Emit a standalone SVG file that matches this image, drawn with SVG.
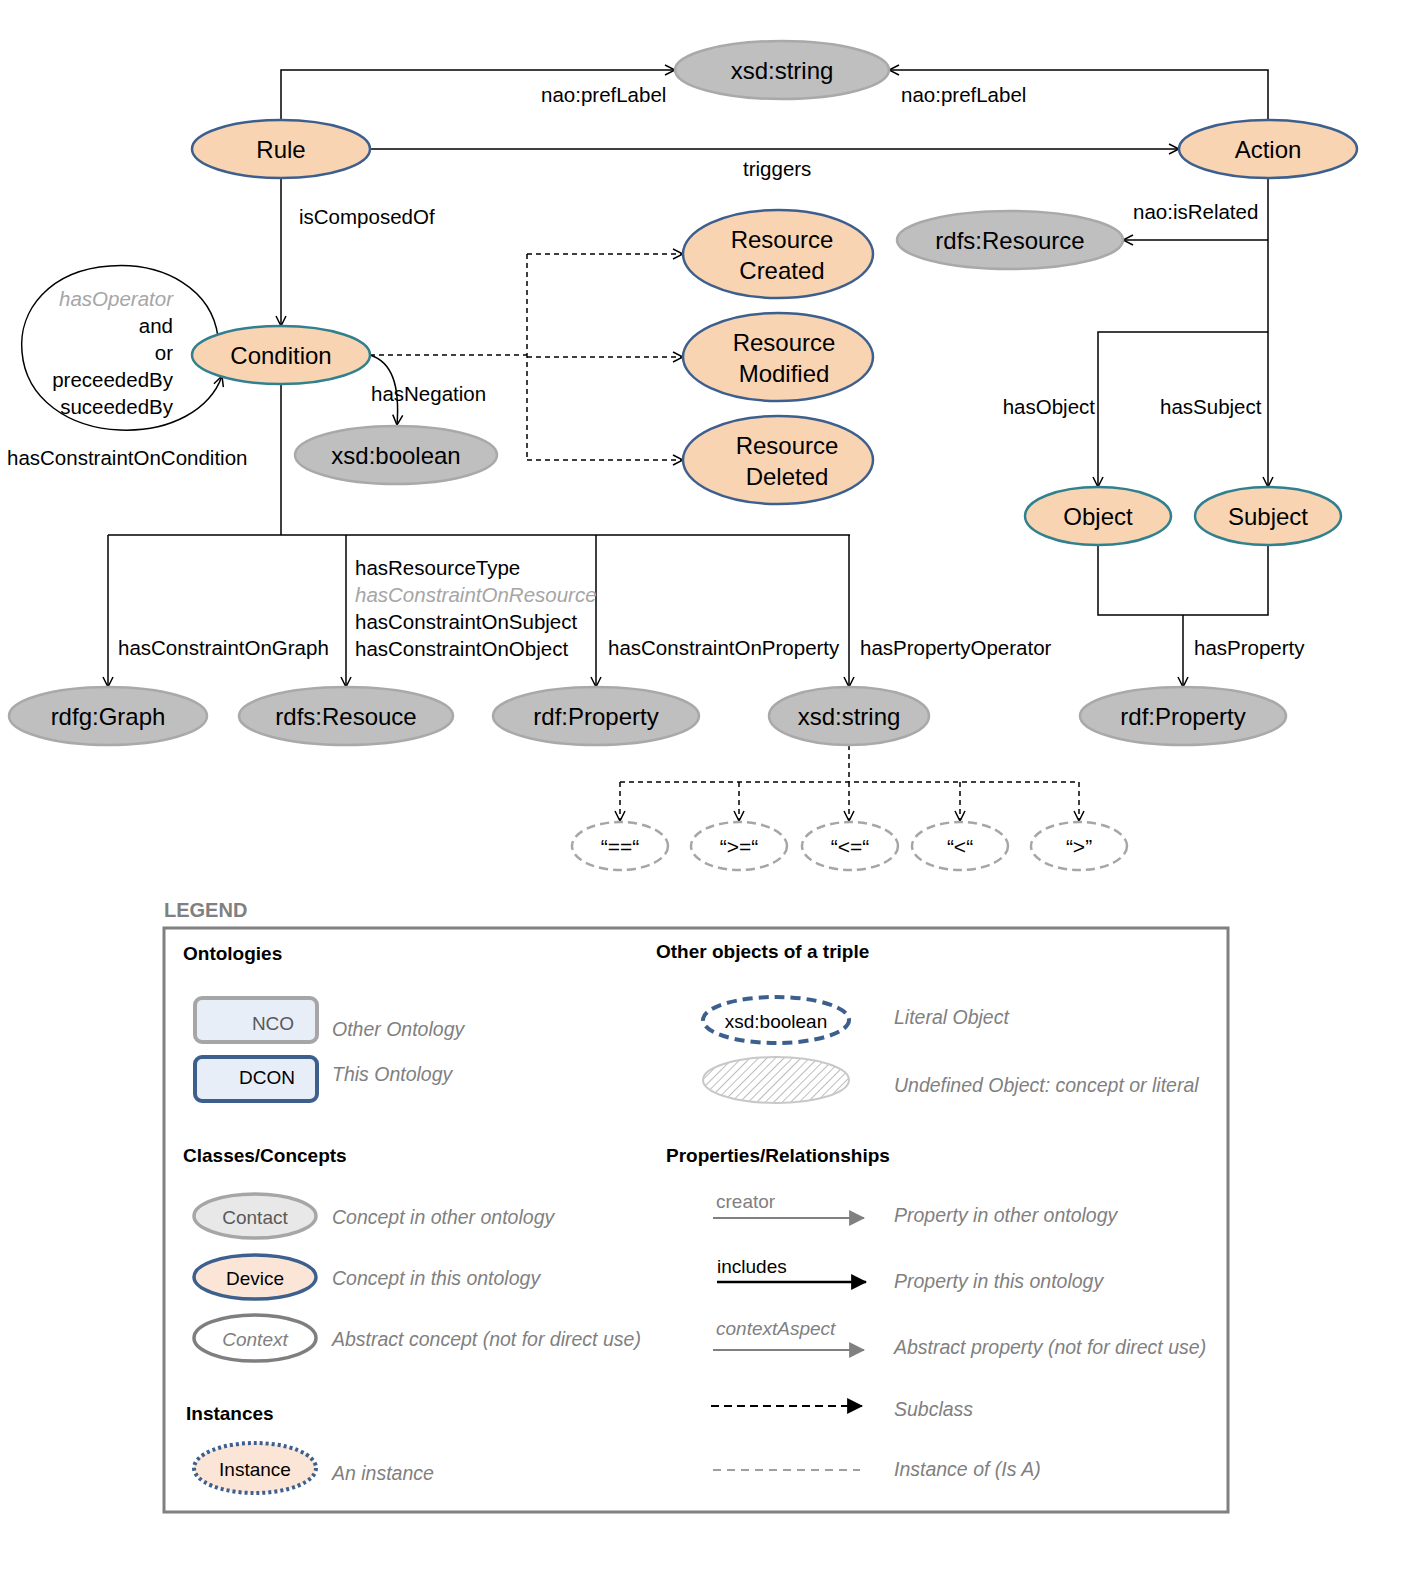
<svg xmlns="http://www.w3.org/2000/svg" width="1418" height="1584" viewBox="0 0 1418 1584">
<style>
text{font-family:"Liberation Sans",Arial,sans-serif;fill:#000}
.lbl{font-size:20.5px}
.nl{font-size:24px;text-anchor:middle}
.cls{fill:#F9D4B3;stroke:#3D5F8E;stroke-width:2.5}
.clt{fill:#F9D4B3;stroke:#31808F;stroke-width:2.5}
.lit{fill:#BFBFBF;stroke:#A9A9A9;stroke-width:2.5}
.inst{fill:#fff;stroke:#A6A6A6;stroke-width:2.5;stroke-dasharray:9 5}
.ln{fill:none;stroke:#000;stroke-width:1.5}
.dl{fill:none;stroke:#000;stroke-width:1.5;stroke-dasharray:5 4}
.arr{marker-end:url(#open)}
.gi{font-style:italic;fill:#A6A6A6}
.lg{font-size:19.5px;font-style:italic;fill:#808080}
.lh{font-size:19px;font-weight:bold}
.ln2{font-size:19px;text-anchor:middle}
</style>
<defs>
<marker id="open" viewBox="0 0 12 12" refX="11" refY="6" markerWidth="12" markerHeight="12" markerUnits="userSpaceOnUse" orient="auto">
<path d="M1,1 L11,6 L1,11" fill="none" stroke="#000" stroke-width="1.5"/>
</marker>
<marker id="triB" viewBox="0 0 14 14" refX="13" refY="7" markerWidth="16" markerHeight="16" markerUnits="userSpaceOnUse" orient="auto">
<path d="M0,0 L14,7 L0,14 Z" fill="#000"/>
</marker>
<marker id="triG" viewBox="0 0 14 14" refX="13" refY="7" markerWidth="16" markerHeight="16" markerUnits="userSpaceOnUse" orient="auto">
<path d="M0,0 L14,7 L0,14 Z" fill="#808080"/>
</marker>
<pattern id="hatch" width="6" height="6" patternUnits="userSpaceOnUse" patternTransform="rotate(45)">
<rect width="6" height="6" fill="#fff"/>
<line x1="0" y1="0" x2="0" y2="6" stroke="#BDBDBD" stroke-width="2"/>
</pattern>
</defs>

<g id="connectors">
<path class="ln arr" d="M281,120 V70 H675"/>
<path class="ln arr" d="M1268,120 V70 H889"/>
<path class="ln arr" d="M370,149 H1179"/>
<path class="ln arr" d="M281,178 V326"/>
<path class="ln arr" d="M1268,240 H1123"/>
<path class="ln" d="M1268,178 V332"/>
<path class="ln arr" d="M1268,332 H1098 V487"/>
<path class="ln arr" d="M1268,332 V487"/>
<path class="ln" d="M1098,545 V615 H1268 V545"/>
<path class="ln arr" d="M1183,615 V687"/>
<path class="dl" d="M370,355 H527 M527,254 V460"/>
<path class="dl arr" d="M527,254 H683"/>
<path class="dl arr" d="M527,357 H683"/>
<path class="dl arr" d="M527,460 H683"/>
<path class="ln arr" d="M370,355 C392,362 400,385 397,425"/>
<path class="ln arr" d="M218,337 C212,290 165,262 110,266 C50,270 18,310 22,352 C26,400 70,428 120,430 C170,432 210,410 222,376"/>
<path class="ln" d="M281,384 V535 M108,535 H850"/>
<path class="ln arr" d="M108,535 V687"/>
<path class="ln arr" d="M346,535 V687"/>
<path class="ln arr" d="M596,535 V687"/>
<path class="ln arr" d="M849,535 V687"/>
<path class="dl" d="M849,745 V782 M620,782 H1079"/>
<path class="dl arr" d="M620,782 V821"/>
<path class="dl arr" d="M739,782 V821"/>
<path class="dl arr" d="M849,782 V821"/>
<path class="dl arr" d="M960,782 V821"/>
<path class="dl arr" d="M1079,782 V821"/>
</g>

<g id="edge-labels" class="lbl">
<text x="541" y="102" class="lbl">nao:prefLabel</text>
<text x="901" y="102" class="lbl">nao:prefLabel</text>
<text x="743" y="176" class="lbl">triggers</text>
<text x="299" y="224" class="lbl">isComposedOf</text>
<text x="1133" y="219" class="lbl">nao:isRelated</text>
<text x="1095" y="414" class="lbl" text-anchor="end">hasObject</text>
<text x="1160" y="414" class="lbl">hasSubject</text>
<text x="1194" y="655" class="lbl">hasProperty</text>
<text x="371" y="401" class="lbl">hasNegation</text>
<text x="173" y="306" class="lbl gi" text-anchor="end">hasOperator</text>
<text x="173" y="333" class="lbl" text-anchor="end">and</text>
<text x="173" y="360" class="lbl" text-anchor="end">or</text>
<text x="173" y="387" class="lbl" text-anchor="end">preceededBy</text>
<text x="173" y="414" class="lbl" text-anchor="end">suceededBy</text>
<text x="7" y="465" class="lbl">hasConstraintOnCondition</text>
<text x="118" y="655" class="lbl">hasConstraintOnGraph</text>
<text x="355" y="575" class="lbl">hasResourceType</text>
<text x="355" y="602" class="lbl gi">hasConstraintOnResource</text>
<text x="355" y="629" class="lbl">hasConstraintOnSubject</text>
<text x="355" y="656" class="lbl">hasConstraintOnObject</text>
<text x="608" y="655" class="lbl">hasConstraintOnProperty</text>
<text x="860" y="655" class="lbl">hasPropertyOperator</text>
</g>

<g id="n-xsdstring-top"><ellipse class="lit" cx="782" cy="70" rx="107" ry="29"/><text class="nl" x="782" y="79">xsd:string</text></g>
<g id="n-rule"><ellipse class="cls" cx="281" cy="149" rx="89" ry="29"/><text class="nl" x="281" y="158">Rule</text></g>
<g id="n-action"><ellipse class="cls" cx="1268" cy="149" rx="89" ry="29"/><text class="nl" x="1268" y="158">Action</text></g>
<g id="n-rdfs-resource"><ellipse class="lit" cx="1010" cy="240" rx="113" ry="29"/><text class="nl" x="1010" y="249">rdfs:Resource</text></g>
<g id="n-res-created"><ellipse class="cls" cx="778" cy="254" rx="95" ry="44"/><text class="nl" x="782" y="248">Resource</text><text class="nl" x="782" y="279">Created</text></g>
<g id="n-res-modified"><ellipse class="cls" cx="778" cy="357" rx="95" ry="44"/><text class="nl" x="784" y="351">Resource</text><text class="nl" x="784" y="382">Modified</text></g>
<g id="n-res-deleted"><ellipse class="cls" cx="778" cy="460" rx="95" ry="44"/><text class="nl" x="787" y="454">Resource</text><text class="nl" x="787" y="485">Deleted</text></g>
<g id="n-condition"><ellipse class="clt" cx="281" cy="355" rx="89" ry="29"/><text class="nl" x="281" y="364">Condition</text></g>
<g id="n-xsdboolean"><ellipse class="lit" cx="396" cy="455" rx="101" ry="29"/><text class="nl" x="396" y="464">xsd:boolean</text></g>
<g id="n-object"><ellipse class="clt" cx="1098" cy="516" rx="73" ry="29"/><text class="nl" x="1098" y="525">Object</text></g>
<g id="n-subject"><ellipse class="clt" cx="1268" cy="516" rx="73" ry="29"/><text class="nl" x="1268" y="525">Subject</text></g>
<g id="n-rdfg-graph"><ellipse class="lit" cx="108" cy="716" rx="99" ry="29"/><text class="nl" x="108" y="725">rdfg:Graph</text></g>
<g id="n-rdfs-resouce"><ellipse class="lit" cx="346" cy="716" rx="107" ry="29"/><text class="nl" x="346" y="725">rdfs:Resouce</text></g>
<g id="n-rdf-property"><ellipse class="lit" cx="596" cy="716" rx="103" ry="29"/><text class="nl" x="596" y="725">rdf:Property</text></g>
<g id="n-xsdstring-bottom"><ellipse class="lit" cx="849" cy="716" rx="80" ry="29"/><text class="nl" x="849" y="725">xsd:string</text></g>
<g id="n-rdf-property-right"><ellipse class="lit" cx="1183" cy="716" rx="103" ry="29"/><text class="nl" x="1183" y="725">rdf:Property</text></g>
<g id="n-eq"><ellipse class="inst" cx="620" cy="846" rx="48" ry="24"/><text class="nl" x="620" y="854" style="font-size:21px">“==“</text></g>
<g id="n-ge"><ellipse class="inst" cx="739" cy="846" rx="48" ry="24"/><text class="nl" x="739" y="854" style="font-size:21px">“&gt;=“</text></g>
<g id="n-le"><ellipse class="inst" cx="850" cy="846" rx="48" ry="24"/><text class="nl" x="850" y="854" style="font-size:21px">“&lt;=“</text></g>
<g id="n-lt"><ellipse class="inst" cx="960" cy="846" rx="48" ry="24"/><text class="nl" x="960" y="854" style="font-size:21px">“&lt;“</text></g>
<g id="n-gt"><ellipse class="inst" cx="1079" cy="846" rx="48" ry="24"/><text class="nl" x="1079" y="854" style="font-size:21px">“&gt;”</text></g>

<g id="legend">
<text x="164" y="917" style="font-size:20px;font-weight:bold;fill:#808080">LEGEND</text>
<rect x="164" y="928" width="1064" height="584" fill="none" stroke="#808080" stroke-width="3"/>
<text class="lh" x="183" y="960">Ontologies</text>
<rect x="195" y="998" width="122" height="44" rx="7" fill="#E8EEF8" stroke="#A6A6A6" stroke-width="4"/>
<text x="273" y="1030" class="ln2" style="fill:#595959">NCO</text>
<text class="lg" x="332" y="1036">Other Ontology</text>
<rect x="195" y="1057" width="122" height="44" rx="7" fill="#E8EEF8" stroke="#3D5F8E" stroke-width="4"/>
<text x="267" y="1084" class="ln2">DCON</text>
<text class="lg" x="332" y="1081">This Ontology</text>

<text class="lh" x="656" y="958">Other objects of a triple</text>
<ellipse cx="776" cy="1020" rx="73" ry="23" fill="#fff" stroke="#3D5F8E" stroke-width="4" stroke-dasharray="10 6"/>
<text x="776" y="1028" class="ln2">xsd:boolean</text>
<text class="lg" x="894" y="1024">Literal Object</text>
<ellipse cx="776" cy="1080" rx="73" ry="23" fill="url(#hatch)" stroke="#C8C8C8" stroke-width="2"/>
<text class="lg" x="894" y="1092">Undefined Object: concept or literal</text>

<text class="lh" x="183" y="1162">Classes/Concepts</text>
<ellipse cx="255" cy="1216" rx="61" ry="22" fill="#E8E8E8" stroke="#A6A6A6" stroke-width="3.5"/>
<text x="255" y="1224" class="ln2" style="fill:#595959">Contact</text>
<text class="lg" x="332" y="1224">Concept in other ontology</text>
<ellipse cx="255" cy="1277" rx="61" ry="22" fill="#FBE5D6" stroke="#3D5F8E" stroke-width="3.5"/>
<text x="255" y="1285" class="ln2">Device</text>
<text class="lg" x="332" y="1285">Concept in this ontology</text>
<ellipse cx="255" cy="1338" rx="61" ry="23" fill="#fff" stroke="#7F7F7F" stroke-width="3.5"/>
<text x="255" y="1346" class="ln2" style="font-style:italic;fill:#808080">Context</text>
<text class="lg" x="332" y="1346">Abstract concept (not for direct use)</text>

<text class="lh" x="186" y="1420">Instances</text>
<ellipse cx="255" cy="1468" rx="61" ry="25" fill="#FBE5D6" stroke="#3D5F8E" stroke-width="4" stroke-dasharray="3 3"/>
<text x="255" y="1476" class="ln2">Instance</text>
<text class="lg" x="332" y="1480">An instance</text>

<text class="lh" x="666" y="1162">Properties/Relationships</text>
<text x="716" y="1208" style="font-size:19px;fill:#808080">creator</text>
<line x1="713" y1="1218" x2="864" y2="1218" stroke="#808080" stroke-width="2" marker-end="url(#triG)"/>
<text class="lg" x="894" y="1222">Property in other ontology</text>
<text x="717" y="1273" style="font-size:19px">includes</text>
<line x1="717" y1="1282" x2="866" y2="1282" stroke="#000" stroke-width="2.5" marker-end="url(#triB)"/>
<text class="lg" x="894" y="1288">Property in this ontology</text>
<text x="716" y="1335" style="font-size:19px;font-style:italic;fill:#808080">contextAspect</text>
<line x1="713" y1="1350" x2="864" y2="1350" stroke="#808080" stroke-width="2" marker-end="url(#triG)"/>
<text class="lg" x="894" y="1354">Abstract property (not for direct use)</text>
<line x1="711" y1="1406" x2="862" y2="1406" stroke="#000" stroke-width="2" stroke-dasharray="8 5" marker-end="url(#triB)"/>
<text class="lg" x="894" y="1416">Subclass</text>
<line x1="713" y1="1470" x2="860" y2="1470" stroke="#808080" stroke-width="1.5" stroke-dasharray="8 6"/>
<text class="lg" x="894" y="1476">Instance of (Is A)</text>
</g>
</svg>
